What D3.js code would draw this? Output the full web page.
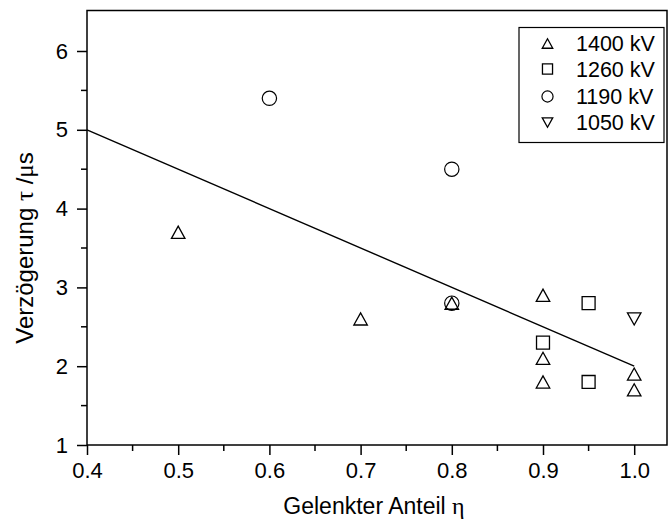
<!DOCTYPE html>
<html><head><meta charset="utf-8">
<script src="https://cdn.jsdelivr.net/npm/d3@7"></script>
<style>body{margin:0;background:#fff}svg{display:block}text{font-family:Arial,"Liberation Sans",sans-serif;fill:#000}</style>
</head><body>
<script>
const xTicks = [0.4,0.5,0.6,0.7,0.8,0.9,1.0];
const yTicks = [1,2,3,4,5,6];
const series = ["1400 kV","1260 kV","1190 kV","1050 kV"];
const shapes = ["up","square","circle","down"];
const s1400 = [[0.5,3.7],[0.7,2.6],[0.8,2.8],[0.9,2.9],[0.9,2.1],[0.9,1.8],[1.0,1.9],[1.0,1.7]];
const s1260 = [[0.9,2.3],[0.95,2.8],[0.95,1.8]];
const s1190 = [[0.6,5.4],[0.8,4.5],[0.8,2.8]];
const s1050 = [[1.0,2.6]];
const fitLine = [[0.4,5.0],[1.0,2.0]];
const seriesData = [s1400,s1260,s1190,s1050];

const W=669,H=522;
const L=87,R=667,T=10.5,B=445;
const svg=d3.select("body").append("svg").attr("width",W).attr("height",H);
const x=d3.scaleLinear().domain([0.4,1.0]).range([L,L+6*91.2]);
const xMax=x.invert(R);
x.domain([0.4,xMax]).range([L,R]);
const y=d3.scaleLinear().domain([1,6]).range([B,B-5*78.8]);
const yMax=y.invert(T);
y.domain([1,yMax]).range([B,T]);

function sym(type,cx,cy,s){
  const h=s/2;
  if(type==="up"){const hh=s*0.45;return `M${cx-h},${cy+hh}L${cx+h},${cy+hh}L${cx},${cy-hh}Z`;}
  if(type==="down"){const hh=s*0.45;return `M${cx-h},${cy-hh}L${cx+h},${cy-hh}L${cx},${cy+hh}Z`;}
  if(type==="square"){const q=s*0.48;return `M${cx-q},${cy-q}h${2*q}v${2*q}h${-2*q}Z`;}
  return null;
}
function drawMarker(g,type,cx,cy,s){
  if(type==="circle"){
    g.append("circle").attr("cx",cx).attr("cy",cy).attr("r",s*0.53).attr("fill","none").attr("stroke","#000").attr("stroke-width",1.2);
  } else {
    g.append("path").attr("d",sym(type,cx,cy,s)).attr("fill","none").attr("stroke","#000").attr("stroke-width",1.3);
  }
}

// axes
const xAxis=d3.axisBottom(x).tickValues(xTicks).tickSize(10).tickFormat(d3.format(".1f"));
const gx=svg.append("g").attr("transform",`translate(0,${B})`).call(xAxis);
gx.select(".domain").remove();
gx.selectAll(".tick line").attr("stroke-width",1.5);
gx.selectAll(".tick text").attr("font-size",22).attr("dy",0).attr("y",33);
const xMinor=d3.range(0.45,1.0,0.1);
svg.append("g").selectAll("line").data(xMinor).join("line")
  .attr("x1",d=>x(d)).attr("x2",d=>x(d)).attr("y1",B).attr("y2",B+6).attr("stroke","#000").attr("stroke-width",1.5);

const yAxis=d3.axisLeft(y).tickValues(yTicks).tickSize(10).tickFormat(d3.format("d"));
const gy=svg.append("g").attr("transform",`translate(${L},0)`).call(yAxis);
gy.select(".domain").remove();
gy.selectAll(".tick line").attr("stroke-width",1.5);
gy.selectAll(".tick text").attr("font-size",22).attr("x",-19);
const yMinor=[1.5,2.5,3.5,4.5,5.5];
svg.append("g").selectAll("line").data(yMinor).join("line")
  .attr("x1",L-6).attr("x2",L).attr("y1",d=>y(d)).attr("y2",d=>y(d)).attr("stroke","#000").attr("stroke-width",1.5);

// frame
svg.append("rect").attr("x",L).attr("y",T).attr("width",R-L).attr("height",B-T)
  .attr("fill","none").attr("stroke","#000").attr("stroke-width",1.5);

// fit line
svg.append("path").datum(fitLine).attr("d",d3.line().x(d=>x(d[0])).y(d=>y(d[1])))
  .attr("fill","none").attr("stroke","#000").attr("stroke-width",1.4);

// points
const gp=svg.append("g");
seriesData.forEach((data,i)=>{
  data.forEach(d=>drawMarker(gp,shapes[i],x(d[0]),y(d[1]),13.5));
});

// legend
const lg=svg.append("g");
lg.append("rect").attr("x",519).attr("y",27.5).attr("width",145).attr("height",115)
  .attr("fill","#fff").attr("stroke","#000").attr("stroke-width",1.2);
const ly=[43.5,69,96.5,122.5];
series.forEach((s,i)=>{
  drawMarker(lg,shapes[i],547.5,ly[i],10.5);
  lg.append("text").attr("x",576).attr("y",ly[i]).attr("dy","0.36em").attr("font-size",21.5).text(s);
});

// axis titles
const serif="'Liberation Serif','Times New Roman',serif";
const xt=svg.append("text").attr("x",374).attr("y",514).attr("text-anchor","middle").attr("font-size",23);
xt.append("tspan").text("Gelenkter Anteil ");
xt.append("tspan").attr("font-family",serif).attr("font-size",24).text("η");
const yt=svg.append("text").attr("transform",`translate(33,248) rotate(-90)`).attr("text-anchor","middle").attr("font-size",24);
yt.append("tspan").text("Verzögerung ");
yt.append("tspan").attr("font-family",serif).attr("font-size",25).text("τ");
yt.append("tspan").text(" /");
yt.append("tspan").attr("font-family",serif).attr("font-size",25).text("μ");
yt.append("tspan").text("s");
</script>
</body></html>
